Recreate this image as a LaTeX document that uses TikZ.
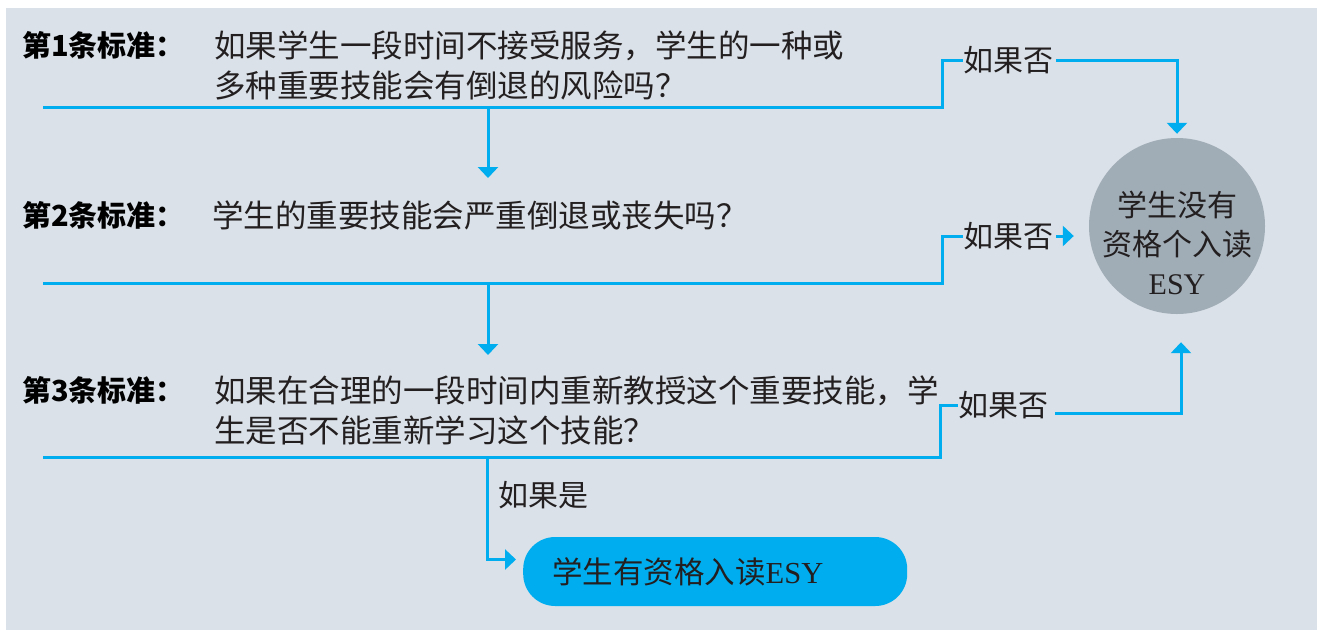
\documentclass[tikz,border=0pt]{standalone}
\usepackage{fontspec}
\setmainfont{Liberation Serif}
\newfontfamily\cjk{Noto Sans CJK SC}
\usetikzlibrary{arrows.meta,positioning}
\definecolor{bgblue}{RGB}{218,225,232}
\definecolor{flowblue}{RGB}{0,174,239}
\definecolor{discgrey}{RGB}{160,172,182}
\definecolor{inkgrey}{RGB}{35,31,32}
\tikzset{
  flow/.style={draw=flowblue, line width=3pt},
  flowarrow/.style={flow, -{Triangle[width=20pt,length=11pt]}},
  critlabel/.style={anchor=west, inner sep=0pt, font=\cjk\bfseries\fontsize{29}{40}\selectfont},
  question/.style={anchor=west, inner sep=0pt, align=left, text=inkgrey, font=\cjk\fontsize{31.5}{40}\selectfont},
  nolabel/.style={anchor=west, inner sep=0pt, text=inkgrey, font=\cjk\fontsize{30}{40}\selectfont},
}
\begin{document}
\begin{tikzpicture}[x=1pt,y=-1pt]
\useasboundingbox (0,0) rectangle (1317,630);
\fill [bgblue] (6,8) rectangle (1317,630);
% criteria
\node [critlabel] (c1) at (22,45) {第1条标准：};
\node [question] (q1) at (214,65) {如果学生一段时间不接受服务，学生的一种或\\多种重要技能会有倒退的风险吗？};
\node [critlabel] (c2) at (22,215) {第2条标准：};
\node [question] (q2) at (212,215) {学生的重要技能会严重倒退或丧失吗？};
\node [critlabel] (c3) at (22,390) {第3条标准：};
\node [question] (q3) at (214,410) {如果在合理的一段时间内重新教授这个重要技能，学\\生是否不能重新学习这个技能？};
% answers
\node [nolabel] (n1) at (963,60) {如果否};
\node [nolabel] (n2) at (963,236) {如果否};
\node [nolabel] (n3) at (958,405) {如果否};
\node [nolabel] (yes) at (498,495) {如果是};
\node [circle, fill=discgrey, minimum size=176pt, inner sep=0pt] (noesy) at (1177,226) {};
\node [align=center, inner sep=0pt, text=inkgrey, font=\cjk\fontsize{30}{39}\selectfont]
  (noesytext) at ([yshift=-17pt]noesy.center) {学生没有\\资格个入读\\{\rmfamily ESY}};
\node [fill=flowblue, rounded corners=32pt, anchor=west, minimum height=69pt, text width=326pt,
  inner xsep=29pt, align=left, text=inkgrey, font=\cjk\fontsize{30.5}{40}\selectfont] (esy) at (523,571.5) {学生有资格入读{\rmfamily ESY}};
% lines
\coordinate (l1s) at (43,107);
\coordinate (l1e) at (942,107);
\coordinate (l2s) at (43,283);
\coordinate (l2e) at (942,283);
\coordinate (l3s) at (43,457);
\coordinate (l3e) at (940,457);
\coordinate (drop1) at (488,107);
\coordinate (drop1end) at (488,178);
\coordinate (drop2) at (488,283);
\coordinate (drop2end) at (488,355);
\coordinate (drop3) at (487,457);
\draw [flow] (l1s) -- (l1e) |- (n1.west);
\draw [flowarrow, shorten >=4pt] ([xshift=3pt]n1.east) -| (noesy.north);
\draw [flowarrow] (drop1) -- (drop1end);
\draw [flow] (l2s) -- (l2e) |- (n2.west);
\draw [flowarrow, shorten >=15pt] ([xshift=3pt]n2.east) -- (noesy.west |- n2.east);
\draw [flowarrow] (drop2) -- (drop2end);
\draw [flow] (l3s) -- (l3e) |- (n3.west);
\draw [flowarrow, shorten >=28pt] ([xshift=7pt,yshift=-8pt]n3.east) -| ([xshift=4pt]noesy.south);
\draw [flowarrow, shorten >=7pt] (drop3) |- ([yshift=12pt]esy.west);
\end{tikzpicture}
\end{document}
